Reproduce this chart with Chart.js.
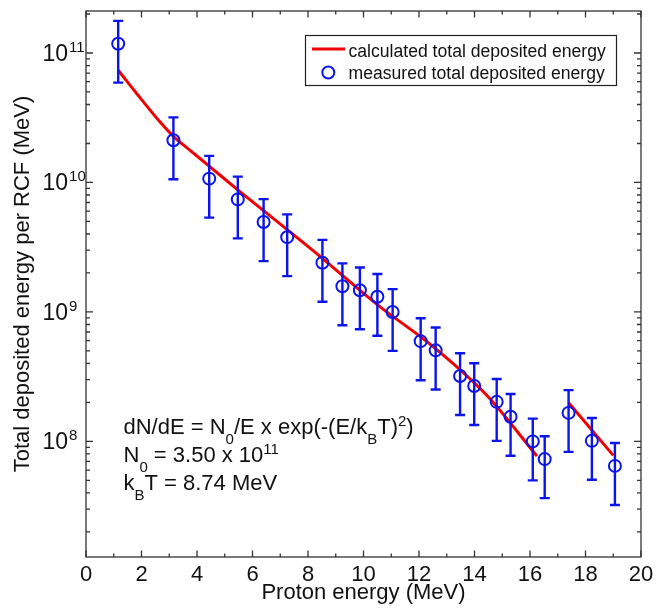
<!DOCTYPE html>
<html>
<head>
<meta charset="utf-8">
<script src="https://cdn.jsdelivr.net/npm/chart.js@4.4.0/dist/chart.umd.min.js"></script>
<style>
  html, body { margin: 0; padding: 0; background: #fff; }
  #wrap { width: 666px; height: 609px; }
</style>
</head>
<body>
<div id="wrap"><canvas id="chart" width="666" height="609"></canvas></div>
<script>
// measured points (proton energy in MeV, deposited energy in MeV, +/- error)
const measuredE = [1.16, 3.15, 4.44, 5.47, 6.40, 7.25, 8.52, 9.24, 9.87, 10.50, 11.05,
  12.06, 12.60, 13.48, 13.99, 14.80, 15.30, 16.10, 16.53, 17.39, 18.23, 19.06];
const measuredDep = [1.18e11, 2.12e10, 1.07e10, 7.4e9, 4.95e9, 3.78e9, 2.4e9, 1.58e9, 1.47e9, 1.31e9, 1.0e9,
  5.95e8, 5.05e8, 3.2e8, 2.68e8, 2.02e8, 1.55e8, 1.0e8, 7.3e7, 1.66e8, 1.01e8, 6.47e7];
const measuredErr = [5.9e10, 1.06e10, 5.35e9, 3.7e9, 2.48e9, 1.89e9, 1.2e9, 7.9e8, 7.35e8, 6.55e8, 5.0e8,
  2.98e8, 2.53e8, 1.6e8, 1.34e8, 1.01e8, 7.75e7, 5.0e7, 3.65e7, 8.3e7, 5.05e7, 3.24e7];

// calculated curve, two pieces
const calcE1 = [1.16, 2.07, 2.67, 3.15, 3.75, 4.47, 5.49, 7.35, 8.43, 10.52, 12.52, 14.44, 16.25];
const calcDep1 = [7.35e10, 4.19e10, 2.93e10, 2.27e10, 1.77e10, 1.32e10, 8.7e9, 4.15e9, 2.69e9, 1.13e9, 5.37e8, 2.27e8, 7.7e7];
const calcE2 = [17.40, 19.00];
const calcDep2 = [1.98e8, 7.8e7];

// axes
const xTicks = [0, 2, 4, 6, 8, 10, 12, 14, 16, 18, 20];
const yTicks = [1e8, 1e9, 1e10, 1e11];
const yTickExp = ["8", "9", "10", "11"];

const FONT = '"Liberation Sans", Arial, Helvetica, sans-serif';
const RED = "rgb(240,0,0)";
const BLUE = "rgb(10,20,235)";
const AXIS = "#333333";

function pts(xs, ys) {
  return xs.map((x, i) => ({ x: x, y: ys[i] }));
}

// draws a string made of normal / sub / sup pieces, returns end x
function richText(ctx, parts, x, y, size, small) {
  parts.forEach((p) => {
    let dy = 0;
    let fs = size;
    if (p[1] === "sub") { dy = 10; fs = small; }
    if (p[1] === "sup") { dy = -8; fs = small; }
    ctx.font = fs + "px " + FONT;
    ctx.fillText(p[0], x, y + dy);
    x += ctx.measureText(p[0]).width;
  });
  return x;
}

const errorBars = {
  id: "errorBars",
  afterDatasetsDraw(chart) {
    const ctx = chart.ctx;
    const xs = chart.scales.x;
    const ys = chart.scales.y;
    ctx.save();
    ctx.strokeStyle = BLUE;
    ctx.lineWidth = 2.4;
    measuredE.forEach((e, i) => {
      const px = xs.getPixelForValue(e);
      const top = ys.getPixelForValue(measuredDep[i] + measuredErr[i]);
      const bot = ys.getPixelForValue(measuredDep[i] - measuredErr[i]);
      ctx.beginPath();
      ctx.moveTo(px, top); ctx.lineTo(px, bot);
      ctx.moveTo(px - 5, top); ctx.lineTo(px + 5, top);
      ctx.moveTo(px - 5, bot); ctx.lineTo(px + 5, bot);
      ctx.stroke();
    });
    ctx.restore();
  },
};

const frame = {
  id: "frame",
  afterDraw(chart) {
    const ctx = chart.ctx;
    const a = chart.chartArea;
    const xs = chart.scales.x;
    const ys = chart.scales.y;
    ctx.save();

    // box
    ctx.strokeStyle = AXIS;
    ctx.lineWidth = 1.3;
    ctx.strokeRect(a.left, a.top, a.right - a.left, a.bottom - a.top);

    // x ticks, inward on bottom and top
    ctx.beginPath();
    for (let v = 0; v <= 20; v++) {
      const px = xs.getPixelForValue(v);
      const len = v % 2 === 0 ? 6.5 : 3.5;
      ctx.moveTo(px, a.bottom); ctx.lineTo(px, a.bottom - len);
      ctx.moveTo(px, a.top); ctx.lineTo(px, a.top + len);
    }
    // y ticks, decades and minors, left and right
    for (let d = 7; d <= 11; d++) {
      for (let m = 1; m <= 9; m++) {
        const v = m * Math.pow(10, d);
        if (v < ys.min || v > ys.max) continue;
        const py = ys.getPixelForValue(v);
        const len = m === 1 ? 7 : 4;
        ctx.moveTo(a.left, py); ctx.lineTo(a.left + len, py);
        ctx.moveTo(a.right, py); ctx.lineTo(a.right - len, py);
      }
    }
    ctx.stroke();

    // tick labels
    ctx.fillStyle = "#111";
    ctx.textBaseline = "alphabetic";
    ctx.textAlign = "center";
    ctx.font = "22px " + FONT;
    xTicks.forEach((v) => {
      ctx.fillText(String(v), xs.getPixelForValue(v), a.bottom + 23.5);
    });
    ctx.textAlign = "left";
    yTicks.forEach((v, i) => {
      const py = ys.getPixelForValue(v);
      ctx.font = "23px " + FONT;
      ctx.fillText("10", 42.5, py + 8);
      const w = ctx.measureText("10").width;
      ctx.font = "15px " + FONT;
      ctx.fillText(yTickExp[i], 42.5 + w + 1, py - 1);
    });

    // legend
    ctx.fillStyle = "#fff";
    ctx.fillRect(305.5, 35.5, 311, 50);
    ctx.strokeStyle = "#222";
    ctx.lineWidth = 1.2;
    ctx.strokeRect(305.5, 35.5, 311, 50);
    ctx.strokeStyle = RED;
    ctx.lineWidth = 3;
    ctx.beginPath();
    ctx.moveTo(312, 49); ctx.lineTo(345, 49);
    ctx.stroke();
    ctx.strokeStyle = BLUE;
    ctx.lineWidth = 2;
    ctx.beginPath();
    ctx.arc(328.3, 72.5, 6, 0, Math.PI * 2);
    ctx.stroke();
    ctx.fillStyle = "#111";
    ctx.font = "17.6px " + FONT;
    ctx.fillText(chart.data.datasets[0].label, 348.5, 56.5);
    ctx.fillText(chart.data.datasets[2].label, 348.5, 78.5);

    // fit annotation
    richText(ctx, [["dN/dE = N", "n"], ["0", "sub"], ["/E x exp(-(E/k", "n"], ["B", "sub"], ["T)", "n"], ["2", "sup"], [")", "n"]], 123.5, 433.5, 22, 15);
    richText(ctx, [["N", "n"], ["0", "sub"], [" = 3.50 x 10", "n"], ["11", "sup"]], 123.5, 461.5, 22, 15);
    richText(ctx, [["k", "n"], ["B", "sub"], ["T = 8.74 MeV", "n"]], 123.5, 489.5, 22, 15);

    ctx.restore();
  },
};

new Chart(document.getElementById("chart"), {
  type: "scatter",
  data: {
    datasets: [
      {
        label: "calculated total deposited energy",
        data: pts(calcE1, calcDep1),
        showLine: true,
        borderColor: RED,
        borderWidth: 3,
        pointRadius: 0,
        cubicInterpolationMode: "monotone",
        order: 2,
      },
      {
        label: "calculated total deposited energy (2)",
        data: pts(calcE2, calcDep2),
        showLine: true,
        borderColor: RED,
        borderWidth: 3,
        pointRadius: 0,
        order: 2,
      },
      {
        label: "measured total deposited energy",
        data: pts(measuredE, measuredDep),
        showLine: false,
        pointRadius: 6,
        pointBorderWidth: 2,
        pointBorderColor: BLUE,
        pointBackgroundColor: "rgba(0,0,0,0)",
        order: 1,
      },
    ],
  },
  options: {
    responsive: false,
    animation: false,
    devicePixelRatio: 1,
    layout: { padding: { top: 11, right: 25, left: 0, bottom: 0 } },
    plugins: {
      legend: { display: false },
      tooltip: { enabled: false },
    },
    scales: {
      x: {
        type: "linear",
        min: 0,
        max: 20,
        grid: { display: false },
        border: { display: false },
        ticks: { display: false },
        afterFit: (s) => { s.height = 52; },
        title: {
          display: true,
          text: "Proton energy (MeV)",
          color: "#111",
          font: { family: FONT, size: 22 },
          padding: { top: 0, bottom: 3 },
        },
      },
      y: {
        type: "logarithmic",
        min: 1.28e7,
        max: 2.11e11,
        grid: { display: false },
        border: { display: false },
        ticks: { display: false },
        afterFit: (s) => { s.width = 86; },
        title: {
          display: true,
          text: "Total deposited energy per RCF (MeV)",
          color: "#111",
          font: { family: FONT, size: 22 },
          padding: { top: 10, bottom: 0 },
        },
      },
    },
  },
  plugins: [errorBars, frame],
});
</script>
</body>
</html>
